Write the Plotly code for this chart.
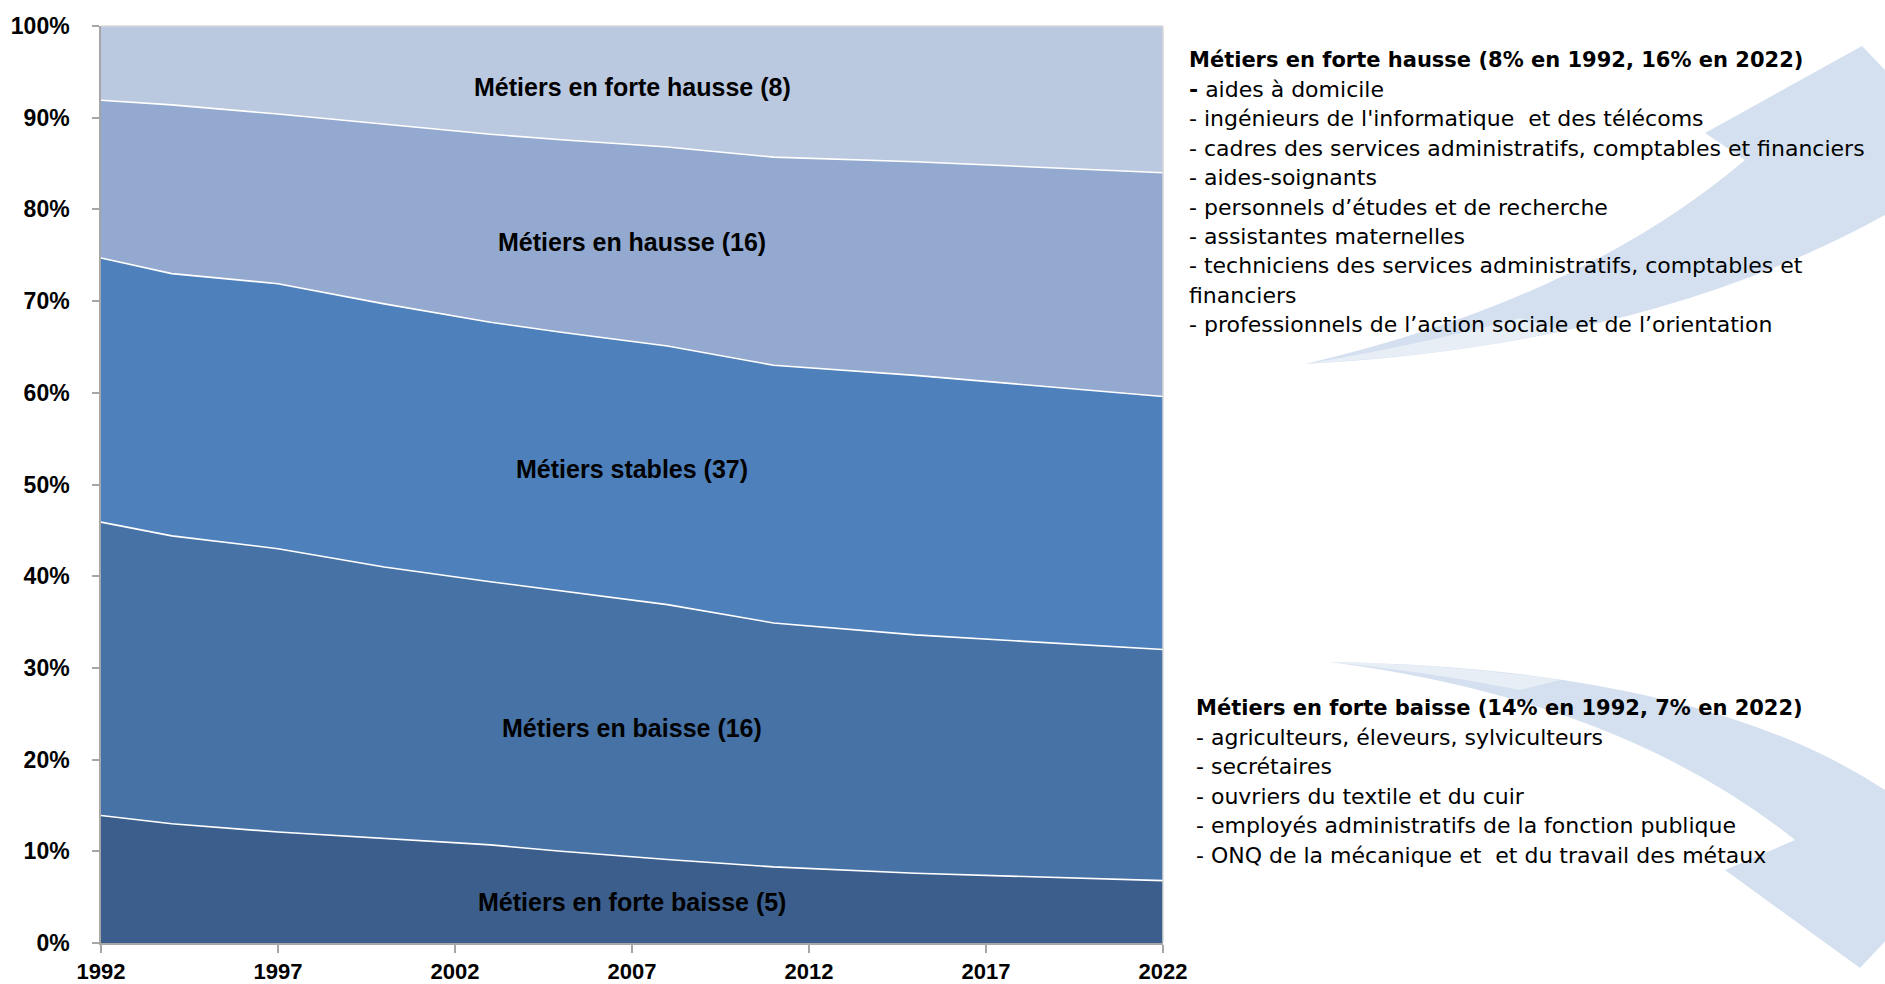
import plotly.graph_objects as go

# shares of employment by group of occupations (%)
years = [1992, 1994, 1997, 2000, 2003, 2005, 2008, 2011, 2015, 2022]
forte_baisse = [13.9, 13.0, 12.1, 11.4, 10.7, 10.0, 9.1, 8.3, 7.6, 6.8]
baisse = [32.0, 31.4, 30.9, 29.6, 28.7, 28.4, 27.8, 26.6, 26.0, 25.2]
stables = [28.8, 28.6, 28.9, 28.7, 28.3, 28.2, 28.2, 28.1, 28.3, 27.6]
hausse = [17.2, 18.4, 18.5, 19.6, 20.5, 21.0, 21.7, 22.7, 23.3, 24.4]
forte_hausse = [8.1, 8.6, 9.6, 10.7, 11.8, 12.4, 13.2, 14.3, 14.8, 16.0]

series_names = ["Métiers en forte baisse (5)", "Métiers en baisse (16)", "Métiers stables (37)",
                "Métiers en hausse (16)", "Métiers en forte hausse (8)"]
series_colors = ["#3b5e8c", "#4672a6", "#4e80bc", "#93a9cf", "#bac8e0"]
label_y = [4.5, 23.5, 51.7, 76.4, 93.4]

x_ticks = [1992, 1997, 2002, 2007, 2012, 2017, 2022]

hausse_title = "Métiers en forte hausse (8% en 1992, 16% en 2022)"
hausse_lines = [
    "<b>-</b> aides à domicile",
    "- ingénieurs de l'informatique  et des télécoms",
    "- cadres des services administratifs, comptables et financiers",
    "- aides-soignants",
    "- personnels d’études et de recherche",
    "- assistantes maternelles",
    "- techniciens des services administratifs, comptables et",
    "financiers",
    "- professionnels de l’action sociale et de l’orientation",
]
baisse_title = "Métiers en forte baisse (14% en 1992, 7% en 2022)"
baisse_lines = [
    "- agriculteurs, éleveurs, sylviculteurs",
    "- secrétaires",
    "- ouvriers du textile et du cuir",
    "- employés administratifs de la fonction publique",
    "- ONQ de la mécanique et  et du travail des métaux",
]

W, H = 1885, 984
L, R, T, B = 101, 722, 26, 41


def px(x):
    return (x - L) / (W - L - R)


def py(y):
    return (H - B - y) / (H - T - B)


def pt(x, y):
    return f"{px(x):.4f},{py(y):.4f}"


def arrow_path(tail, ctrl_a, end_a, head, ctrl_b):
    # curved shaft from the tail to the head, then the head polygon, back along the other edge
    s = f"M {pt(*tail)} Q {pt(*ctrl_a)} {pt(*end_a)}"
    for p in head:
        s += f" L {pt(*p)}"
    s += f" Q {pt(*ctrl_b)} {pt(*tail)} Z"
    return s


fig = go.Figure()
data = [forte_baisse, baisse, stables, hausse, forte_hausse]
for i, (name, vals, col) in enumerate(zip(series_names, data, series_colors)):
    fig.add_trace(go.Scatter(
        x=years, y=vals, name=name, stackgroup="one", mode="lines",
        line=dict(color="white", width=0 if i == 4 else 1.6),
        fillcolor=col, hoverinfo="skip",
    ))

for name, y in zip(series_names, label_y):
    fig.add_annotation(x=2007, y=y, xref="x", yref="y", text=f"<b>{name}</b>",
                       showarrow=False, font=dict(size=25, color="black"))

# text blocks on the right
step = 29.4
fig.add_annotation(x=px(1187), y=py(60), xref="paper", yref="paper", text=f"<b>{hausse_title}</b>",
                   showarrow=False, xanchor="left", yanchor="middle",
                   font=dict(family="DejaVu Sans", size=21, color="black"))
for i, t in enumerate(hausse_lines):
    fig.add_annotation(x=px(1187), y=py(60 + step * (i + 1)), xref="paper", yref="paper", text=t,
                       showarrow=False, xanchor="left", yanchor="middle",
                       font=dict(family="DejaVu Sans", size=22, color="black"))
fig.add_annotation(x=px(1194), y=py(708), xref="paper", yref="paper", text=f"<b>{baisse_title}</b>",
                   showarrow=False, xanchor="left", yanchor="middle",
                   font=dict(family="DejaVu Sans", size=21, color="black"))
for i, t in enumerate(baisse_lines):
    fig.add_annotation(x=px(1194), y=py(708 + step * (i + 1)), xref="paper", yref="paper", text=t,
                       showarrow=False, xanchor="left", yanchor="middle",
                       font=dict(family="DejaVu Sans", size=22, color="black"))

# background arrows
up_arrow = arrow_path((1305, 364), (1650, 345), (1885, 215),
                      [(1930, 195), (1985, 175), (1862, 46), (1705, 133), (1745, 160)],
                      (1580, 300))
down_arrow = arrow_path((1330, 662), (1700, 668), (1885, 790),
                        [(1925, 815), (1990, 830), (1860, 968), (1725, 870), (1795, 840)],
                        (1620, 700))
up_tail = arrow_path((1305, 364), (1480, 352), (1560, 330), [(1560, 330), (1520, 318)], (1420, 345))
down_tail = arrow_path((1330, 662), (1450, 664), (1560, 680), [(1560, 680), (1520, 690)], (1430, 672))

shapes = []
for p in [up_arrow, down_arrow]:
    shapes.append(dict(type="path", path=p, xref="paper", yref="paper",
                       fillcolor="rgba(176,199,226,0.55)", line=dict(width=0), layer="below"))
for p in [up_tail, down_tail]:
    shapes.append(dict(type="path", path=p, xref="paper", yref="paper",
                       fillcolor="rgba(255,255,255,0.45)", line=dict(width=0), layer="below"))
shapes += [
    dict(type="line", x0=0, x1=1, y0=1, y1=1, xref="paper", yref="paper",
         line=dict(color="#d9d9d9", width=1.5)),
    dict(type="line", x0=1, x1=1, y0=0, y1=1, xref="paper", yref="paper",
         line=dict(color="#d9d9d9", width=1.5)),
]

fig.update_layout(
    width=W, height=H,
    margin=dict(l=L, r=R, t=T, b=B, autoexpand=False),
    paper_bgcolor="white", plot_bgcolor="white",
    showlegend=False, hovermode=False, dragmode=False,
    font=dict(family="Liberation Sans", color="black"),
    shapes=shapes,
)
fig.update_xaxes(
    range=[1992, 2022], tickvals=x_ticks, showgrid=False, zeroline=False, automargin=False,
    showline=True, linecolor="#a6a6a6", linewidth=1.5,
    ticks="outside", ticklen=8, tickwidth=1.5, tickcolor="#a6a6a6",
    tickfont=dict(size=22, weight="bold", color="black"), ticklabelstandoff=0,
)
fig.update_yaxes(
    range=[0, 100], tick0=0, dtick=10, ticksuffix="%", showgrid=False, zeroline=False, automargin=False,
    showline=True, linecolor="#a6a6a6", linewidth=1.5,
    ticks="outside", ticklen=7, tickwidth=1.5, tickcolor="#a6a6a6",
    tickfont=dict(size=23, weight="bold", color="black"), ticklabelstandoff=18,
)

# the page's default body margin would push the figure 8px off the window
fig.write_html("out.html", config={"displayModeBar": False},
               post_script="document.body.style.margin='0';")
